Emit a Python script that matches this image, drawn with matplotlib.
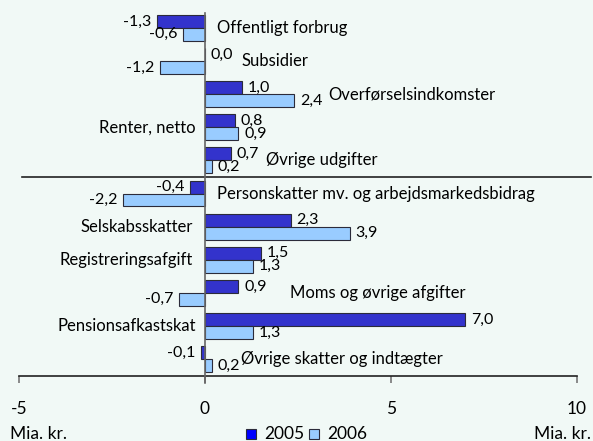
import numpy as np
import matplotlib
matplotlib.use("Agg")
import matplotlib.pyplot as plt
from matplotlib.patches import Rectangle

plt.rcParams['font.family'] = ['Lato', 'DejaVu Sans']

# data (mia. kr.)
categories = ['Offentligt forbrug', 'Subsidier', 'Overførselsindkomster', 'Renter, netto',
              'Øvrige udgifter', 'Personskatter mv. og arbejdsmarkedsbidrag', 'Selskabsskatter',
              'Registreringsafgift', 'Moms og øvrige afgifter', 'Pensionsafkastskat',
              'Øvrige skatter og indtægter']
values_2005 = [-1.3, 0.0, 1.0, 0.8, 0.7, -0.4, 2.3, 1.5, 0.9, 7.0, -0.1]
values_2006 = [-0.6, -1.2, 2.4, 0.9, 0.2, -2.2, 3.9, 1.3, -0.7, 1.3, 0.2]
series_names = ['2005', '2006']
xticks = [-5, 0, 5, 10]

# where each category label sits: (x in data units, ha)
label_pos = [(0.32, 'left'), (0.98, 'left'), (3.3, 'left'), (-0.25, 'right'),
             (1.63, 'left'), (0.32, 'left'), (-0.32, 'right'), (-0.32, 'right'),
             (2.28, 'left'), (-0.25, 'right'), (0.98, 'left')]

bg = '#f1f9f6'
dark = '#3333cc'
light = '#99ccff'
edge = '#2b2b3a'

fig = plt.figure(figsize=(5.93, 4.41), dpi=100, facecolor=bg)
ax = fig.add_axes([19/593, 65/441, 558/593, 365/441])
ax.set_facecolor(bg)

y = np.arange(len(categories))
h = 0.39
ax.barh(y - h/2, values_2005, height=h, color=dark, edgecolor=edge, linewidth=0.8, zorder=3)
ax.barh(y + h/2, values_2006, height=h, color=light, edgecolor=edge, linewidth=0.8, zorder=3)

def fmt(v):
    return ('%.1f' % v).replace('.', ',')

for i in range(len(categories)):
    for v, yy in [(values_2005[i], y[i] - h/2), (values_2006[i], y[i] + h/2)]:
        if v < 0:
            ax.annotate(fmt(v), (v, yy), xytext=(-4, 0), textcoords='offset points',
                        ha='right', va='center', fontsize=11.5, zorder=4)
        else:
            ax.annotate(fmt(v), (v, yy), xytext=(4, 0), textcoords='offset points',
                        ha='left', va='center', fontsize=11.5, zorder=4)
    lx, ha = label_pos[i]
    ax.text(lx, y[i], categories[i], ha=ha, va='center', fontsize=12, zorder=4)

ax.set_xlim(-5, 10)
ax.set_ylim(len(categories) - 0.49, -0.51)

for s in ['left', 'right', 'top']:
    ax.spines[s].set_visible(False)
ax.spines['bottom'].set_color('#222222')
ax.spines['bottom'].set_linewidth(1.2)
ax.set_xticks(xticks)
ax.set_xticklabels([str(t) for t in xticks], fontsize=12.5)
ax.tick_params(axis='x', direction='out', length=5, width=1.2, color='#777777', pad=13)
ax.set_yticks([])

# zero line and separator between expenditures and revenues
ax.axvline(0, ymin=-0.02, ymax=0.995, color='#666666', linewidth=1.2, clip_on=False, zorder=5)
ax.axhline(4.5, xmin=0.005, xmax=1.025, color='#222222', linewidth=1.2, clip_on=False, zorder=2)

# bottom texts
fig.text(10/593, 1 - 434/441, 'Mia. kr.', ha='left', va='center', fontsize=12.5)
fig.text(591/593, 1 - 434/441, 'Mia. kr.', ha='right', va='center', fontsize=12.5)
for k, (c, name) in enumerate(zip(['#0000ff', light], series_names)):
    x0 = (246 + k * 63) / 593
    fig.patches.append(Rectangle((x0, 1 - 439/441), 10/593, 10/441, transform=fig.transFigure,
                                 facecolor=c, edgecolor=edge, linewidth=0.8))
    fig.text(x0 + 18/593, 1 - 434/441, name, ha='left', va='center', fontsize=12.5)

fig.savefig('out.png', dpi=100, facecolor=bg)
